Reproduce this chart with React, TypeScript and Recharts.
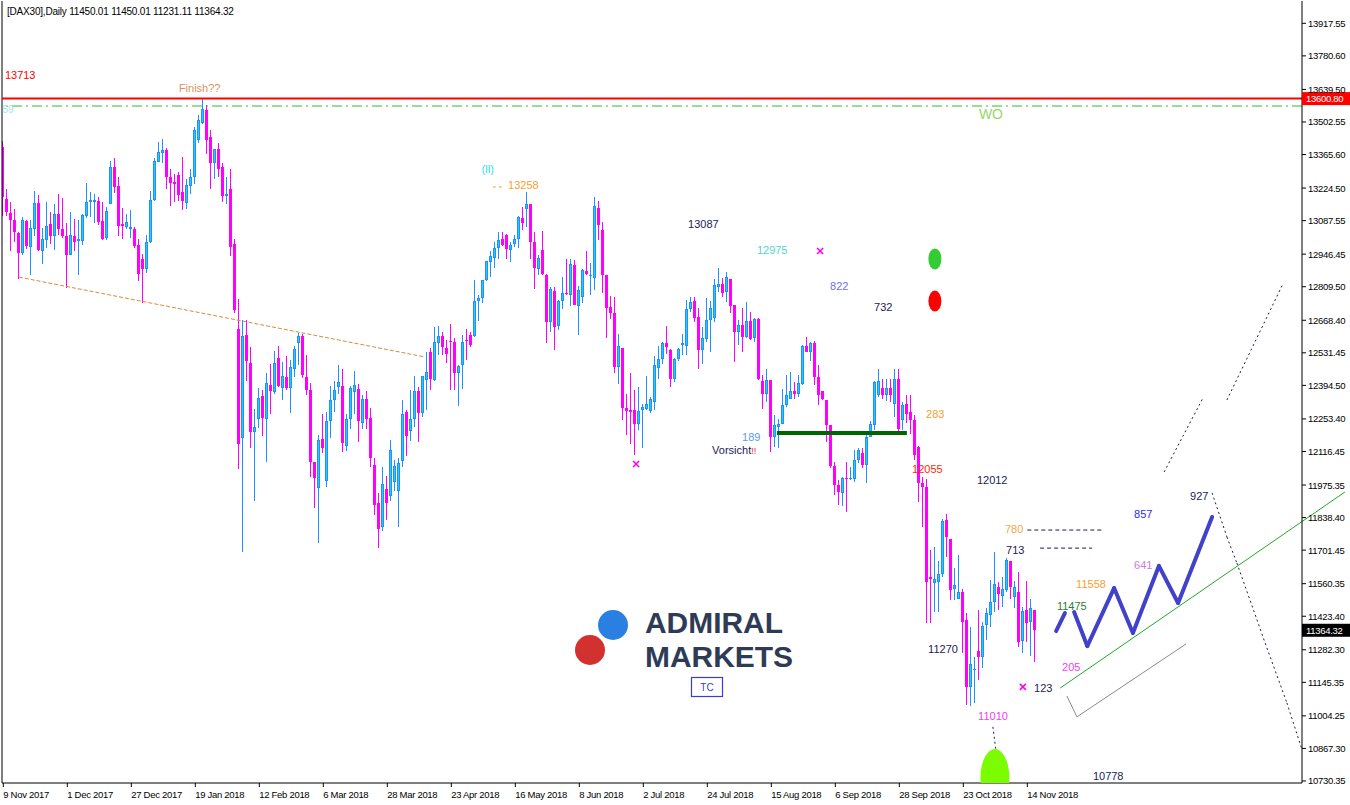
import React from 'react'
import {
  ComposedChart, Bar, XAxis, YAxis, ReferenceLine, ReferenceDot,
} from 'recharts'

// ---- axis labels ----
const dateLabels = [
  '9 Nov 2017', '1 Dec 2017', '27 Dec 2017', '19 Jan 2018', '12 Feb 2018', '6 Mar 2018',
  '28 Mar 2018', '23 Apr 2018', '16 May 2018', '8 Jun 2018', '2 Jul 2018', '24 Jul 2018',
  '15 Aug 2018', '6 Sep 2018', '28 Sep 2018', '23 Oct 2018', '14 Nov 2018',
]
const dateTicks = dateLabels.map((_, k) => k * 16)

const priceTicks = [
  13917.55, 13780.6, 13639.5, 13502.55, 13365.6, 13224.5, 13087.55, 12946.45, 12809.5,
  12668.4, 12531.45, 12394.5, 12253.4, 12116.45, 11975.35, 11838.4, 11701.45, 11560.35,
  11423.4, 11282.3, 11145.35, 11004.25, 10867.3, 10730.35,
]

// ---- daily bars, 9 Nov 2017 .. 16 Nov 2018 ----
const opens = [
  13398, 13180, 13121, 13092, 13037, 12952, 13084, 12977, 13054, 13163, 12960, 13008, 13075, 13023, 13114, 13054, 13021, 12943, 13021, 13002,
  13002, 13107, 13166, 13166, 13168, 13085, 13014, 13158, 13312, 13232, 13072, 13061, 13053, 13054, 12984, 12925, 12885, 12998, 13173, 13335,
  13370, 13384, 13269, 13249, 13278, 13206, 13162, 13234, 13272, 13428, 13500, 13552, 13440, 13330, 13390, 13315, 13192, 13220, 12991, 12631,
  12175, 12606, 12488, 12199, 12255, 12349, 12255, 12398, 12367, 12509, 12384, 12428, 12384, 12465, 12573, 12602, 12429, 12374, 12073, 11961,
  12167, 11993, 12244, 12331, 12386, 12391, 12140, 12255, 12367, 12381, 12237, 12339, 12259, 12060, 11900, 11800, 11960, 11930, 11990, 11950,
  12076, 12283, 12203, 12251, 12370, 12279, 12416, 12533, 12416, 12573, 12604, 12550, 12582, 12575, 12447, 12480, 12587, 12608, 12601, 12749,
  12764, 12837, 12914, 12932, 12973, 13012, 13026, 12966, 12988, 13012, 13100, 13138, 13156, 12998, 12886, 12966, 12858, 12662, 12791, 12643,
  12749, 12781, 12774, 12900, 12727, 12767, 12875, 12854, 12848, 13142, 13050, 12858, 12725, 12700, 12472, 12550, 12300, 12290, 12290, 12230,
  12293, 12297, 12286, 12325, 12468, 12505, 12571, 12543, 12423, 12505, 12564, 12561, 12715, 12749, 12681, 12543, 12589, 12669, 12676, 12809,
  12823, 12788, 12841, 12732, 12620, 12648, 12599, 12664, 12592, 12673, 12414, 12360, 12416, 12178, 12220, 12234, 12311, 12339, 12370, 12360,
  12402, 12561, 12536, 12571, 12428, 12370, 12332, 12227, 12056, 11975, 11940, 12006, 11999, 11999, 12080, 12108, 12059, 12178, 12227, 12353,
  12384, 12356, 12384, 12318, 12423, 12248, 12315, 12283, 12248, 12136, 11985, 11968, 11590, 11564, 11569, 11599, 11828, 11748, 11540, 11498,
  11524, 11407, 11127, 11197, 11278, 11253, 11386, 11428, 11484, 11545, 11508, 11533, 11657, 11503, 11526, 11320, 11449, 11400, 11450.01,
]
const highs = [
  13423, 13219, 13166, 13138, 13040, 13102, 13092, 13089, 13213, 13194, 13057, 13166, 13124, 13159, 13199, 13182, 13078, 13123, 13096, 13089,
  13117, 13246, 13208, 13198, 13187, 13164, 13145, 13339, 13351, 13271, 13142, 13114, 13131, 13061, 13009, 12946, 13026, 13213, 13349, 13417,
  13430, 13395, 13306, 13285, 13290, 13354, 13264, 13306, 13482, 13531, 13601, 13573, 13470, 13390, 13412, 13332, 13271, 13304, 13009, 12757,
  12669, 12669, 12555, 12297, 12384, 12374, 12447, 12484, 12540, 12559, 12494, 12517, 12501, 12559, 12616, 12611, 12522, 12404, 12073, 12185,
  12275, 12283, 12393, 12412, 12480, 12463, 12276, 12391, 12456, 12400, 12353, 12372, 12300, 12090, 11940, 12050, 12013, 12164, 12080, 12090,
  12332, 12293, 12374, 12433, 12388, 12433, 12533, 12550, 12641, 12645, 12620, 12587, 12652, 12592, 12480, 12606, 12631, 12620, 12837, 12774,
  12837, 12917, 12960, 12998, 13040, 13040, 13033, 12998, 13026, 13106, 13145, 13208, 13156, 13040, 12942, 13043, 12865, 12809, 12809, 12753,
  12851, 12928, 12928, 12921, 12812, 12886, 12960, 12910, 13187, 13170, 13082, 12858, 12770, 12767, 12610, 12550, 12360, 12447, 12377, 12388,
  12318, 12433, 12346, 12519, 12559, 12575, 12643, 12547, 12510, 12550, 12610, 12753, 12767, 12767, 12718, 12641, 12760, 12749, 12844, 12889,
  12847, 12872, 12841, 12732, 12669, 12718, 12746, 12704, 12676, 12676, 12437, 12463, 12416, 12272, 12255, 12378, 12440, 12449, 12409, 12437,
  12564, 12599, 12578, 12580, 12479, 12370, 12332, 12227, 12073, 11996, 12010, 12073, 12052, 12122, 12129, 12129, 12192, 12244, 12412, 12463,
  12423, 12421, 12423, 12465, 12465, 12325, 12353, 12353, 12269, 12140, 12007, 11999, 11702, 11713, 11657, 11831, 11853, 11748, 11625, 11681,
  11536, 11435, 11380, 11250, 11449, 11400, 11456, 11575, 11695, 11569, 11590, 11667, 11657, 11573, 11611, 11461, 11573, 11494, 11450.01,
]
const lows = [
  13106, 13106, 12960, 12998, 12844, 12943, 12967, 12858, 13022, 12959, 12904, 12974, 12988, 12963, 13026, 13015, 12806, 12943, 12959, 12858,
  12984, 13100, 13103, 13078, 13068, 13008, 13005, 13158, 13204, 13022, 13009, 13051, 13016, 12973, 12833, 12742, 12868, 12994, 13170, 13335,
  13330, 13222, 13148, 13166, 13169, 13131, 13135, 13201, 13243, 13412, 13496, 13369, 13220, 13264, 13271, 13165, 13159, 12939, 12700, 12041,
  11695, 12414, 12133, 11909, 12217, 12182, 12073, 12276, 12360, 12388, 12335, 12377, 12279, 12430, 12480, 12426, 12355, 12010, 11877, 11730,
  12108, 11965, 12174, 12283, 12358, 12115, 12119, 12213, 12276, 12157, 12213, 12213, 12050, 11850, 11710, 11780, 11830, 11910, 11950, 11800,
  12050, 12097, 12160, 12220, 12157, 12262, 12293, 12377, 12413, 12522, 12522, 12489, 12374, 12377, 12307, 12378, 12500, 12554, 12599, 12666,
  12741, 12833, 12851, 12889, 12925, 12981, 12925, 12914, 12977, 12974, 13047, 13061, 12925, 12802, 12858, 12858, 12573, 12620, 12545, 12627,
  12714, 12774, 12729, 12732, 12606, 12741, 12858, 12774, 12795, 13005, 12781, 12594, 12672, 12447, 12402, 12248, 12185, 12150, 12101, 12206,
  12129, 12290, 12280, 12290, 12423, 12486, 12526, 12388, 12410, 12496, 12522, 12522, 12704, 12662, 12465, 12486, 12575, 12536, 12662, 12788,
  12767, 12746, 12697, 12494, 12564, 12536, 12592, 12585, 12575, 12416, 12297, 12325, 12115, 12136, 12129, 12234, 12304, 12339, 12339, 12346,
  12398, 12536, 12496, 12395, 12311, 12332, 12157, 12045, 11933, 11891, 11888, 11863, 11996, 11989, 12066, 12045, 11982, 12178, 12206, 12346,
  12339, 12328, 12325, 12262, 12192, 12206, 12237, 12192, 12080, 11905, 11800, 11396, 11396, 11442, 11442, 11590, 11671, 11491, 11491, 11498,
  11267, 11050, 11045, 11060, 11155, 11204, 11323, 11379, 11442, 11449, 11463, 11526, 11498, 11456, 11295, 11267, 11316, 11256, 11231.11,
]
const closes = [
  13187, 13124, 13092, 13040, 12952, 13089, 12981, 13058, 13163, 12963, 13009, 13067, 13023, 13114, 13053, 13023, 12943, 13025, 12998, 13009,
  13113, 13165, 13173, 13173, 13082, 13011, 13127, 13312, 13229, 13065, 13064, 13081, 13061, 12981, 12864, 12885, 12997, 13173, 13339, 13375,
  13384, 13271, 13246, 13242, 13196, 13168, 13236, 13270, 13468, 13510, 13559, 13428, 13330, 13390, 13305, 13192, 13199, 12977, 12711, 12150,
  12601, 12498, 12199, 12219, 12340, 12258, 12404, 12372, 12487, 12393, 12433, 12384, 12470, 12547, 12604, 12438, 12377, 12073, 12003, 12164,
  12133, 12244, 12331, 12374, 12408, 12153, 12255, 12384, 12395, 12245, 12339, 12255, 12090, 11890, 11790, 11980, 11900, 12122, 12055, 12070,
  12276, 12181, 12255, 12370, 12279, 12433, 12449, 12421, 12578, 12601, 12554, 12526, 12576, 12447, 12475, 12576, 12582, 12565, 12749, 12764,
  12837, 12917, 12938, 12974, 13008, 12987, 12970, 12987, 13012, 13103, 13078, 13159, 12998, 12890, 12932, 12861, 12662, 12802, 12641, 12749,
  12785, 12777, 12904, 12732, 12795, 12879, 12861, 12858, 13148, 13071, 12858, 12721, 12700, 12472, 12559, 12300, 12286, 12283, 12234, 12286,
  12304, 12315, 12339, 12480, 12507, 12571, 12557, 12423, 12505, 12547, 12571, 12715, 12746, 12678, 12543, 12592, 12669, 12720, 12816, 12823,
  12785, 12851, 12729, 12620, 12648, 12599, 12664, 12589, 12673, 12421, 12360, 12416, 12178, 12227, 12234, 12311, 12353, 12370, 12360, 12405,
  12561, 12536, 12571, 12430, 12353, 12339, 12227, 12056, 11975, 11947, 12003, 12000, 12006, 12080, 12122, 12059, 12178, 12230, 12409, 12412,
  12353, 12384, 12353, 12423, 12213, 12311, 12276, 12248, 12101, 11985, 11968, 11569, 11578, 11578, 11599, 11825, 11758, 11533, 11554, 11526,
  11400, 11127, 11222, 11200, 11253, 11382, 11435, 11482, 11559, 11517, 11540, 11662, 11547, 11547, 11316, 11447, 11396, 11456, 11364.32,
]

// ---- drawn objects: [bar index, price] ----
const finishLevel = 13600.8
const woLevel = 13569.7

const notes = [
  { t: '13713', i: 0.4, p: 13683, kind: 'red' },
  { t: 'Finish??', i: 43.9, p: 13629, kind: 'sand' },
  { t: 'WO', i: 243.9, p: 13515, kind: 'wo' },
  { t: '(II)', i: 119.6, p: 13288, kind: 'cyan' },
  { t: '13258', i: 126.2, p: 13221, kind: 'orange' },
  { t: '13087', i: 171.2, p: 13057, kind: 'navy' },
  { t: '12975', i: 188.4, p: 12947, kind: 'teal' },
  { t: '822', i: 206.7, p: 12796, kind: 'violet' },
  { t: '732', i: 217.7, p: 12707, kind: 'navy' },
  { t: '189', i: 184.7, p: 12161, kind: 'sky' },
  { t: '283', i: 230.7, p: 12257, kind: 'orange' },
  { t: '12055', i: 227.2, p: 12026, kind: 'redorange' },
  { t: '12012', i: 243.4, p: 11980, kind: 'navy' },
  { t: '780', i: 250.4, p: 11774, kind: 'lightorange' },
  { t: '713', i: 250.7, p: 11685, kind: 'navy' },
  { t: '11270', i: 231.2, p: 11269, kind: 'navy' },
  { t: '11010', i: 243.7, p: 10987, kind: 'pink' },
  { t: '123', i: 257.7, p: 11105, kind: 'navy' },
  { t: '205', i: 264.7, p: 11193, kind: 'pink' },
  { t: '10778', i: 272.4, p: 10735, kind: 'navy' },
  { t: '11475', i: 263.4, p: 11450, kind: 'darkgreen' },
  { t: '11558', i: 268.2, p: 11542, kind: 'orange' },
  { t: '641', i: 282.7, p: 11622, kind: 'orchid' },
  { t: '857', i: 282.7, p: 11837, kind: 'blue' },
  { t: '927', i: 296.7, p: 11912, kind: 'navy' },
  { t: '59', i: -0.2, p: 13540, kind: 'ghost' },
]
const vorsicht = { i: 177.2, p: 12106 }

const crosses = [[204.2, 12960], [158.2, 12064], [254.9, 11126]]
const dots = [
  { i: 232.9, p: 12926, kind: 'green' },
  { i: 232.9, p: 12749, kind: 'red' },
]
const target = { i: 247.9, p: 10743 }

const paths = [
  { kind: 'oldTrend', pts: [[3.9, 12850], [105.4, 12514]] },
  { kind: 'tagDash', pts: [[122.4, 13229], [124.9, 13229]] },
  { kind: 'support', pts: [[193.4, 12194], [225.9, 12194]] },
  { kind: 'dashes', pts: [[256.0, 11786], [274.7, 11786]] },
  { kind: 'dashes', pts: [[259.2, 11710], [272.2, 11710]] },
  { kind: 'whiteDash', pts: [[245.0, 10731], [250.8, 10731]] },
  { kind: 'dots', pts: [[247.4, 10958], [249.2, 10722]] },
  { kind: 'trendUp', pts: [[264.2, 11121], [335.4, 11946]] },
  { kind: 'grey', pts: [[265.9, 11088], [268.4, 11000], [295.7, 11307]] },
  { kind: 'dots', pts: [[290.2, 12030], [299.9, 12341]] },
  { kind: 'dots', pts: [[305.9, 12333], [319.9, 12821]] },
  { kind: 'dots', pts: [[302.2, 11942], [305.9, 11757], [308.4, 11647], [315.9, 11290], [320.9, 11059], [324.7, 10861]] },
  { kind: 'zig', pts: [[263.2, 11361], [265.4, 11437]] },
  { kind: 'zig', pts: [[267.7, 11441], [271.0, 11298], [277.7, 11542], [282.4, 11353], [288.9, 11635], [293.7, 11479], [302.2, 11841]] },
]

// ---- styles ----
const FONT = '"Liberation Sans", Arial, sans-serif'
const NAVY = '#1B1B52'
const X_MIN = -0.325
const X_MAX = 324.675
const Y_MIN = 10721.9
const Y_MAX = 14011.4

const noteStyle: Record<string, { fill: string; size?: number }> = {
  red: { fill: '#FF0000' },
  sand: { fill: '#E0915A' },
  wo: { fill: '#9AD46A', size: 14 },
  cyan: { fill: '#19D9F0', size: 10 },
  orange: { fill: '#F5A031' },
  navy: { fill: NAVY },
  teal: { fill: '#4FD8C8' },
  violet: { fill: '#6F6FE8' },
  sky: { fill: '#5C9CE6' },
  redorange: { fill: '#FF2A00' },
  lightorange: { fill: '#F0A848' },
  pink: { fill: '#F040F0' },
  darkgreen: { fill: '#2F7D32' },
  orchid: { fill: '#C77DDB' },
  blue: { fill: '#2B2BF0' },
  ghost: { fill: '#A8E4EE', size: 10 },
}

const lineStyle: Record<string, any> = {
  oldTrend: { stroke: '#D9893C', strokeWidth: 1, strokeDasharray: '4 2' },
  tagDash: { stroke: '#F5A031', strokeWidth: 1, strokeDasharray: '3 3' },
  support: { stroke: '#006400', strokeWidth: 4 },
  dashes: { stroke: NAVY, strokeWidth: 1, strokeDasharray: '4 3' },
  whiteDash: { stroke: '#FFFFFF', strokeWidth: 1, strokeDasharray: '4 3' },
  dots: { stroke: NAVY, strokeWidth: 1, strokeDasharray: '2 3' },
  trendUp: { stroke: '#22AA22', strokeWidth: 1 },
  grey: { stroke: '#8A8A8A', strokeWidth: 1 },
  zig: { stroke: '#4141C9', strokeWidth: 4, strokeLinecap: 'round' },
}

const candles = opens.map((o, i) => ({
  i, o, h: highs[i], l: lows[i], c: closes[i], hl: [lows[i], highs[i]],
}))
const last = candles[candles.length - 1]

function Candle(props: any) {
  const { x, y, width, height, payload } = props
  if (payload == null || x == null) return null
  const top0 = Math.min(y, y + height)
  const span = Math.abs(height)
  const { o, h, l, c } = payload
  const k = span / (h - l || 1)
  const py = (v: number) => top0 + (h - v) * k
  const cx = Math.floor(x + width / 2)
  const up = c >= o
  const col = up ? '#1E90FF' : '#FF00FF'
  const bTop = Math.round(py(Math.max(o, c)))
  const bBot = Math.round(py(Math.min(o, c)))
  const wTop = Math.round(top0)
  const wBot = Math.round(top0 + span)
  return (
    <g>
      <rect x={cx} y={wTop} width={1} height={Math.max(1, wBot - wTop)} fill={col} />
      <rect x={cx - 1} y={bTop} width={3} height={Math.max(1, bBot - bTop)} fill={col} />
      {up && bBot - bTop > 2 && (
        <rect x={cx} y={bTop + 1} width={1} height={bBot - bTop - 2} fill="#22CCFF" />
      )}
    </g>
  )
}

function DateTick(props: any) {
  const { x, y, payload } = props
  return (
    <text x={x} y={y + 9} fontSize={9.5} fontFamily={FONT} letterSpacing={-0.3} fill="#000" textAnchor="start">
      {dateLabels[Math.round(payload.value / 16)]}
    </text>
  )
}

function PriceTick(props: any) {
  const { x, y, payload } = props
  return (
    <text x={x} y={y + 3.5} fontSize={9.5} fontFamily={FONT} letterSpacing={-0.3} fill="#000" textAnchor="start">
      {Number(payload.value).toFixed(2)}
    </text>
  )
}

const priceTag = (bg: string, value: number) => (p: any) => (
  <g>
    <rect x={p.cx} y={p.cy - 6.5} width={48} height={13} fill={bg} />
    <text x={p.cx + 4} y={p.cy + 3.5} fontSize={9.5} fontFamily={FONT} letterSpacing={-0.3} fill="#fff">
      {value.toFixed(2)}
    </text>
  </g>
)

export default function App() {
  const title = `[DAX30],Daily  ${last.o.toFixed(2)} ${last.h.toFixed(2)} ${last.l.toFixed(2)} ${last.c.toFixed(2)}`
  return (
    <div style={{ position: 'relative', width: 1350, height: 805, background: '#fff' }}>
      <style>{'body{margin:0}'}</style>
      <ComposedChart width={1350} height={805} data={candles} margin={{ top: 1, right: 0, bottom: 0, left: 2 }}>
        <XAxis
          dataKey="i" type="number" domain={[X_MIN, X_MAX]} allowDataOverflow
          ticks={dateTicks} interval={0} tick={<DateTick />} tickSize={4} height={22} stroke="#000"
        />
        <YAxis
          orientation="right" type="number" domain={[Y_MIN, Y_MAX]} allowDataOverflow
          ticks={priceTicks} interval={0} tick={<PriceTick />} tickSize={4} width={48} stroke="#000"
        />
        <ReferenceLine x={X_MIN} stroke="#000" ifOverflow="visible" />
        <ReferenceLine y={woLevel} stroke="#2DBE2D" strokeDasharray="10 4 2 4" />
        <Bar dataKey="hl" barSize={3} isAnimationActive={false} shape={(p: any) => <Candle {...p} />} />
        <ReferenceLine y={finishLevel} stroke="#FF0000" strokeWidth={2} />
        <ReferenceDot
          x={target.i} y={target.p} r={0} ifOverflow="visible"
          shape={(q: any) => (
            <g>
              <defs>
                <clipPath id="blob-clip">
                  <rect x={q.cx - 20} y={q.cy - 40} width={40} height={45} />
                </clipPath>
              </defs>
              <ellipse cx={q.cx} cy={q.cy} rx={14.5} ry={29} fill="#7CFC00" clipPath="url(#blob-clip)" />
            </g>
          )}
        />
        {paths.flatMap((path, k) => path.pts.slice(1).map((pt, j) => (
          <ReferenceLine
            key={`seg-${k}-${j}`}
            segment={[{ x: path.pts[j][0], y: path.pts[j][1] }, { x: pt[0], y: pt[1] }]}
            ifOverflow="visible"
            {...lineStyle[path.kind]}
          />
        )))}
        {notes.map((n, k) => (
          <ReferenceDot
            key={`note-${k}`} x={n.i} y={n.p} r={0} ifOverflow="visible"
            shape={(p: any) => (
              <text x={p.cx} y={p.cy} fill={noteStyle[n.kind].fill}
                fontSize={noteStyle[n.kind].size ?? 11} fontFamily={FONT}>{n.t}</text>
            )}
          />
        ))}
        <ReferenceDot
          x={vorsicht.i} y={vorsicht.p} r={0} ifOverflow="visible"
          shape={(p: any) => (
            <text x={p.cx} y={p.cy} fontSize={11} fontFamily={FONT} fill={NAVY}>
              Vorsicht<tspan fill="#E03030" fontSize={9}>!!</tspan>
            </text>
          )}
        />
        {crosses.map(([i, p], k) => (
          <ReferenceDot
            key={`x-${k}`} x={i} y={p} r={0} ifOverflow="visible"
            shape={(q: any) => (
              <g stroke="#FF00FF" strokeWidth={1.6}>
                <line x1={q.cx - 3} y1={q.cy - 3} x2={q.cx + 3} y2={q.cy + 3} />
                <line x1={q.cx - 3} y1={q.cy + 3} x2={q.cx + 3} y2={q.cy - 3} />
              </g>
            )}
          />
        ))}
        {dots.map((d, k) => (
          <ReferenceDot
            key={`dot-${k}`} x={d.i} y={d.p} r={0} ifOverflow="visible"
            shape={(q: any) => (
              <ellipse cx={q.cx} cy={q.cy} rx={6.5} ry={10.5} fill={d.kind === 'green' ? '#33CC33' : '#FF0000'} />
            )}
          />
        ))}
        <ReferenceDot x={X_MAX} y={finishLevel} r={0} ifOverflow="visible" shape={priceTag('#FF0000', finishLevel)} />
        <ReferenceDot x={X_MAX} y={last.c} r={0} ifOverflow="visible" shape={priceTag('#000000', last.c)} />
      </ComposedChart>
      <svg width={1350} height={805} style={{ position: 'absolute', left: 0, top: 0, pointerEvents: 'none' }}>
        <text x={7} y={15} fontSize={10} fontFamily={FONT} letterSpacing={-0.2} fill="#000">{title}</text>
        <circle cx={613} cy={625} r={15} fill="#2A80E2" />
        <circle cx={590} cy={650} r={15} fill="#D33030" />
        <text x={645} y={633} fontSize={30} fontWeight={700} fontFamily={FONT} fill="#2E3B57"
          textLength={138} lengthAdjust="spacingAndGlyphs">ADMIRAL</text>
        <text x={645} y={667} fontSize={30} fontWeight={700} fontFamily={FONT} fill="#2E3B57"
          textLength={148} lengthAdjust="spacingAndGlyphs">MARKETS</text>
        <rect x={691.5} y={677.5} width={31} height={19} fill="none" stroke="#3B3BD6" strokeWidth={1.2} />
        <text x={707} y={691} fontSize={10} fontFamily={FONT} fill="#3B3BD6" textAnchor="middle">TC</text>
      </svg>
    </div>
  )
}
